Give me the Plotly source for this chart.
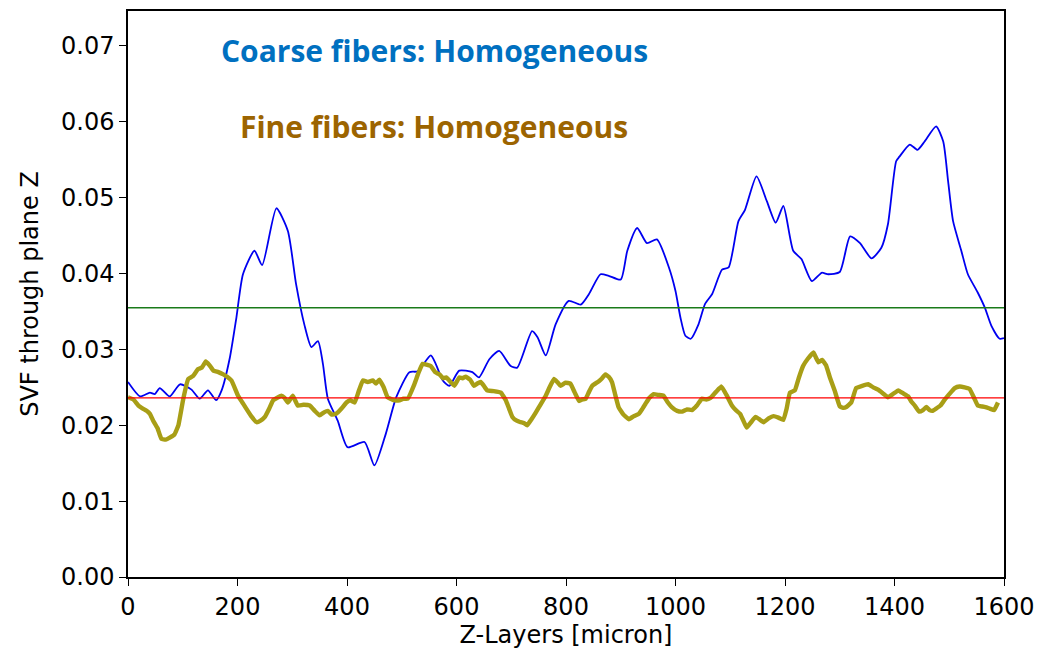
import plotly.graph_objects as go

# Coarse fibers: solid volume fraction through each Z plane
coarse_z = [0, 22, 40, 49, 58, 76, 95, 116, 131, 146, 161, 171, 186, 198, 210, 231, 245, 271, 292,
            307, 322, 335, 347, 356, 365, 383, 401, 432, 450, 471, 490, 514, 529, 553, 562, 575,
            587, 605, 629, 641, 660, 678, 699, 711, 738, 748, 763, 781, 805, 827, 842, 863, 878,
            900, 912, 930, 948, 966, 988, 1000, 1009, 1018, 1028, 1042, 1054, 1067, 1085, 1097,
            1115, 1127, 1148, 1167, 1183, 1197, 1215, 1230, 1249, 1267, 1279, 1300, 1319, 1337,
            1358, 1376, 1388, 1403, 1409, 1428, 1442, 1455, 1476, 1489, 1498, 1507, 1522, 1534,
            1552, 1565, 1577, 1592, 1600]
coarse_svf = [0.0257, 0.0238, 0.0243, 0.0241, 0.0249, 0.0238, 0.0254, 0.0247, 0.0235, 0.0246,
              0.0233, 0.0246, 0.0289, 0.0342, 0.0399, 0.0430, 0.0411, 0.0486, 0.0456, 0.0386,
              0.0333, 0.0303, 0.0311, 0.0281, 0.0235, 0.0206, 0.0171, 0.0178, 0.0147, 0.0189,
              0.0237, 0.0270, 0.0271, 0.0292, 0.0281, 0.0259, 0.0252, 0.0272, 0.0270, 0.0263,
              0.0287, 0.0298, 0.0278, 0.0276, 0.0324, 0.0316, 0.0292, 0.0333, 0.0364, 0.0359,
              0.0373, 0.0399, 0.0397, 0.0392, 0.0430, 0.0460, 0.0440, 0.0445, 0.0408, 0.0377,
              0.0342, 0.0318, 0.0314, 0.0333, 0.0360, 0.0373, 0.0405, 0.0408, 0.0469, 0.0484,
              0.0528, 0.0495, 0.0467, 0.0489, 0.0430, 0.0419, 0.0390, 0.0401, 0.0399, 0.0402,
              0.0449, 0.0440, 0.0420, 0.0434, 0.0465, 0.0548, 0.0554, 0.0570, 0.0563, 0.0574,
              0.0594, 0.0574, 0.0521, 0.0469, 0.0430, 0.0399, 0.0375, 0.0355, 0.0331, 0.0314,
              0.0315]

# Fine fibers: solid volume fraction through each Z plane
fine_z = [0, 10, 19, 27, 34, 40, 46, 54, 61, 69, 77, 85, 92, 101, 110, 119, 128, 135, 142, 149,
          156, 165, 174, 181, 189, 201, 208, 216, 225, 235, 242, 250, 258, 265, 272, 280, 286,
          292, 301, 310, 320, 332, 341, 350, 358, 365, 372, 380, 390, 399, 406, 414, 421, 429,
          438, 447, 453, 459, 467, 474, 485, 496, 503, 511, 523, 530, 538, 545, 553, 561, 569,
          575, 581, 588, 596, 605, 611, 617, 625, 632, 638, 644, 650, 656, 668, 681, 690, 696,
          702, 710, 717, 723, 729, 737, 745, 754, 763, 770, 778, 784, 790, 799, 808, 816, 824,
          830, 836, 842, 848, 860, 866, 872, 878, 884, 890, 896, 905, 915, 924, 933, 939, 945,
          952, 960, 969, 978, 985, 993, 1003, 1012, 1021, 1030, 1039, 1048, 1056, 1064, 1074,
          1084, 1093, 1103, 1110, 1118, 1124, 1130, 1138, 1146, 1153, 1161, 1170, 1179, 1188,
          1197, 1203, 1209, 1218, 1225, 1233, 1242, 1252, 1256, 1261, 1268, 1275, 1282, 1291,
          1300, 1306, 1312, 1321, 1330, 1341, 1352, 1361, 1370, 1379, 1388, 1397, 1407, 1416,
          1425, 1431, 1437, 1445, 1452, 1458, 1464, 1470, 1476, 1484, 1491, 1500, 1510, 1519,
          1528, 1537, 1546, 1552, 1558, 1566, 1574, 1582, 1589, 1600]
fine_svf = [0.0237, 0.0234, 0.0226, 0.0222, 0.0219, 0.0215, 0.0206, 0.0196, 0.0182, 0.0181,
            0.0184, 0.0188, 0.0200, 0.0235, 0.0261, 0.0265, 0.0274, 0.0276, 0.0284, 0.0279,
            0.0272, 0.0270, 0.0267, 0.0264, 0.0259, 0.0239, 0.0231, 0.0222, 0.0212, 0.0204,
            0.0206, 0.0211, 0.0222, 0.0233, 0.0236, 0.0239, 0.0236, 0.0230, 0.0239, 0.0226,
            0.0227, 0.0226, 0.0219, 0.0213, 0.0217, 0.0219, 0.0214, 0.0215, 0.0222, 0.0230,
            0.0233, 0.0230, 0.0244, 0.0259, 0.0257, 0.0259, 0.0255, 0.0260, 0.0250, 0.0237,
            0.0233, 0.0233, 0.0235, 0.0235, 0.0254, 0.0268, 0.0281, 0.0280, 0.0278, 0.0270,
            0.0267, 0.0262, 0.0263, 0.0258, 0.0252, 0.0263, 0.0262, 0.0264, 0.0260, 0.0252,
            0.0255, 0.0257, 0.0252, 0.0246, 0.0245, 0.0243, 0.0233, 0.0222, 0.0211, 0.0206,
            0.0204, 0.0203, 0.0200, 0.0208, 0.0217, 0.0228, 0.0239, 0.0250, 0.0261, 0.0257,
            0.0252, 0.0256, 0.0255, 0.0243, 0.0232, 0.0234, 0.0235, 0.0244, 0.0252, 0.0258,
            0.0262, 0.0267, 0.0264, 0.0257, 0.0240, 0.0224, 0.0214, 0.0208, 0.0212, 0.0215,
            0.0221, 0.0228, 0.0236, 0.0241, 0.0240, 0.0239, 0.0231, 0.0224, 0.0219, 0.0218,
            0.0221, 0.0220, 0.0226, 0.0235, 0.0234, 0.0236, 0.0244, 0.0251, 0.0240, 0.0226,
            0.0220, 0.0215, 0.0206, 0.0197, 0.0204, 0.0211, 0.0208, 0.0204, 0.0209, 0.0212,
            0.0210, 0.0207, 0.0222, 0.0243, 0.0246, 0.0262, 0.0278, 0.0288, 0.0296, 0.0290,
            0.0283, 0.0286, 0.0279, 0.0263, 0.0245, 0.0225, 0.0223, 0.0224, 0.0230, 0.0249,
            0.0252, 0.0254, 0.0250, 0.0247, 0.0242, 0.0237, 0.0241, 0.0246, 0.0242, 0.0238,
            0.0231, 0.0226, 0.0218, 0.0220, 0.0224, 0.0220, 0.0219, 0.0222, 0.0226, 0.0233,
            0.0241, 0.0249, 0.0251, 0.0250, 0.0248, 0.0235, 0.0226, 0.0225, 0.0224, 0.0222,
            0.0220, 0.0230]

# Mean SVF levels of the two structures
coarse_mean = 0.0355
fine_mean = 0.0236

x_ticks = [0, 200, 400, 600, 800, 1000, 1200, 1400, 1600]
y_ticks = [0.00, 0.01, 0.02, 0.03, 0.04, 0.05, 0.06, 0.07]
y_tick_text = [f"{v:.2f}" for v in y_ticks]

fig = go.Figure()
fig.add_trace(go.Scatter(x=coarse_z, y=coarse_svf, mode="lines",
                         line=dict(color="#0000f0", width=1.8, shape="spline", smoothing=0.6),
                         showlegend=False))
fig.add_trace(go.Scatter(x=fine_z, y=fine_svf, mode="lines",
                         line=dict(color="#a89e16", width=4.4, shape="spline", smoothing=0.3),
                         showlegend=False))
fig.add_trace(go.Scatter(x=[x_ticks[0], x_ticks[-1]], y=[coarse_mean, coarse_mean], mode="lines",
                         line=dict(color="#1a7a1a", width=1.5), showlegend=False))
fig.add_trace(go.Scatter(x=[x_ticks[0], x_ticks[-1]], y=[fine_mean, fine_mean], mode="lines",
                         line=dict(color="#ff0000", width=1.2), showlegend=False))

fig.add_annotation(text="<b>Coarse fibers: Homogeneous</b>", x=0.3497, y=0.931,
                   xref="paper", yref="paper", showarrow=False, xanchor="center", yanchor="middle",
                   font=dict(family="Open Sans", size=30, color="#0070c0"))
fig.add_annotation(text="<b>Fine fibers: Homogeneous</b>", x=0.3497, y=0.796,
                   xref="paper", yref="paper", showarrow=False, xanchor="center", yanchor="middle",
                   font=dict(family="Open Sans", size=30, color="#9c6400"))

axis_common = dict(showline=True, linecolor="black", linewidth=1.5, mirror=True,
                   ticks="outside", ticklen=7, tickwidth=1.3, tickcolor="black",
                   showgrid=False, zeroline=False,
                   tickfont=dict(family="DejaVu Sans", size=24, color="black"))

fig.update_xaxes(range=[0, 1600], tickvals=x_ticks,
                 title=dict(text="Z-Layers [micron]", standoff=6,
                            font=dict(family="DejaVu Sans", size=24, color="black")),
                 **axis_common)
fig.update_yaxes(range=[0, 0.0746], tickvals=y_ticks, ticktext=y_tick_text,
                 title=dict(text="SVF through plane Z", standoff=16,
                            font=dict(family="DejaVu Sans", size=24, color="black")),
                 **axis_common)

fig.update_layout(width=1044, height=658, margin=dict(l=128, r=38, t=9, b=81),
                  plot_bgcolor="white", paper_bgcolor="white")

fig.write_html("out.html")
